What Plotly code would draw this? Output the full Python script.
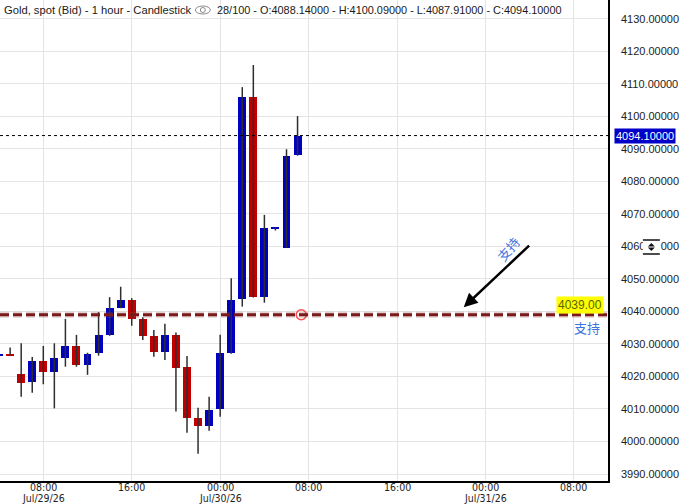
import plotly.graph_objects as go

# ---------------- data ----------------
times = [
    "2026-07-29 04:00", "2026-07-29 05:00", "2026-07-29 06:00", "2026-07-29 07:00",
    "2026-07-29 08:00", "2026-07-29 09:00", "2026-07-29 10:00", "2026-07-29 11:00",
    "2026-07-29 12:00", "2026-07-29 13:00", "2026-07-29 14:00", "2026-07-29 15:00",
    "2026-07-29 16:00", "2026-07-29 17:00", "2026-07-29 18:00", "2026-07-29 19:00",
    "2026-07-29 20:00", "2026-07-29 21:00", "2026-07-29 22:00", "2026-07-29 23:00",
    "2026-07-30 00:00", "2026-07-30 01:00", "2026-07-30 02:00", "2026-07-30 03:00",
    "2026-07-30 04:00", "2026-07-30 05:00", "2026-07-30 06:00", "2026-07-30 07:00",
]
opens = [4026.5, 4026.8, 4020.8, 4018.4, 4024.8, 4021.5, 4025.8, 4029.4,
         4023.5, 4027.3, 4032.8, 4041.2, 4043.5, 4037.6, 4032.5, 4027.6,
         4032.8, 4022.9, 4007.3, 4004.9, 4010.0, 4027.3, 4043.8, 4105.9,
         4044.6, 4065.5, 4059.6, 4088.14]
highs = [4027.0, 4028.9, 4030.2, 4026.0, 4029.4, 4030.2, 4037.7, 4032.8,
         4027.3, 4039.8, 4044.4, 4047.6, 4044.1, 4038.2, 4034.3, 4036.2,
         4033.5, 4026.3, 4010.4, 4013.8, 4032.8, 4050.2, 4109.0, 4115.8,
         4069.7, 4065.8, 4089.9, 4100.09]
lows = [4026.3, 4026.5, 4013.8, 4015.0, 4017.6, 4010.2, 4023.0, 4023.0,
        4020.5, 4026.4, 4032.5, 4041.0, 4035.6, 4031.2, 4026.1, 4025.1,
        4009.2, 4002.7, 3996.2, 4003.3, 4007.6, 4027.0, 4041.5, 4044.3,
        4042.7, 4064.9, 4059.6, 4087.91]
closes = [4026.9, 4026.5, 4018.1, 4024.8, 4021.5, 4025.7, 4029.4, 4023.5,
          4026.8, 4032.8, 4041.0, 4043.5, 4037.6, 4032.6, 4027.6, 4032.8,
          4022.7, 4007.3, 4004.9, 4009.7, 4027.3, 4043.5, 4105.9, 4044.6,
          4065.6, 4065.7, 4087.8, 4094.10]

last_price = 4094.10
support_level = 4039.00
support_anchor_time = "2026-07-30 07:20"
arrow_head = ("2026-07-30 22:02", 4041.3)
arrow_tail = ("2026-07-31 04:05", 4060.7)
arrow_text_pos = ("2026-07-31 02:00", 4059.2)

x_tick_vals = ["2026-07-29 08:00", "2026-07-29 16:00", "2026-07-30 00:00",
               "2026-07-30 08:00", "2026-07-30 16:00", "2026-07-31 00:00",
               "2026-07-31 08:00"]
x_tick_text = ["08:00", "16:00", "00:00", "08:00", "16:00", "00:00", "08:00"]
date_labels = [("2026-07-29 08:00", "Jul/29/26"), ("2026-07-30 00:00", "Jul/30/26"),
               ("2026-07-31 00:00", "Jul/31/26")]
y_ticks = [3990, 4000, 4010, 4020, 4030, 4040, 4050, 4060, 4070, 4080,
           4090, 4100, 4110, 4120, 4130]

title_left = "Gold, spot (Bid) - 1 hour - Candlestick"
title_right = "28/100 - O:4088.14000 - H:4100.09000 - L:4087.91000 - C:4094.10000"

# ---------------- styles ----------------
UP = "#0000C0"
DOWN = "#C00000"
WICK = "#2e2e2e"
GRID = "#e4e4e4"
NARROW = "Liberation Sans Narrow, Arial Narrow, DejaVu Sans Condensed, Liberation Sans"
W, H = 679, 504
PL, PR, PT, PB = 0, 69, 0, 23
PW, PH = W - PL - PR, H - PT - PB


def px_x(p):
    return p / PW


def px_y(p):
    return 1 - p / PH


fig = go.Figure()

# wicks
wx, wy = [], []
for t, h, l in zip(times, highs, lows):
    wx += [t, t, None]
    wy += [l, h, None]
fig.add_trace(go.Scatter(x=wx, y=wy, mode="lines", line=dict(color=WICK, width=1.5),
                         hoverinfo="skip", showlegend=False))

# bodies
base = [min(o, c) for o, c in zip(opens, closes)]
height = [max(abs(c - o), 0.45) for o, c in zip(opens, closes)]
colors = [UP if c >= o else DOWN for o, c in zip(opens, closes)]
fig.add_trace(go.Bar(x=times, y=height, base=base, marker=dict(color=colors, line=dict(width=0)),
                     width=0.72 * 3600 * 1000, showlegend=False, hoverinfo="skip"))

# support anchor circle
fig.add_trace(go.Scatter(x=[support_anchor_time], y=[support_level], mode="markers",
                         marker=dict(symbol="circle-open", size=10, color="#ff4a4a",
                                     line=dict(width=1.5, color="#ff4a4a")),
                         showlegend=False, hoverinfo="skip"))

shapes = []
shapes.append(dict(type="line", xref="paper", x0=0, x1=1, yref="y", y0=support_level, y1=support_level,
                   line=dict(color="rgba(150,70,70,0.25)", width=6, dash="9px,4px"), layer="above"))
shapes.append(dict(type="line", xref="paper", x0=0, x1=1, yref="y", y0=support_level, y1=support_level,
                   line=dict(color="#7a1a1a", width=3, dash="9px,4px"), layer="above"))
shapes.append(dict(type="line", xref="paper", x0=0, x1=1, yref="y", y0=last_price, y1=last_price,
                   line=dict(color="#000000", width=1, dash="3px,3px")))
# eye icon in title
shapes.append(dict(type="circle", xref="paper", yref="paper",
                   x0=px_x(196), x1=px_x(211), y0=px_y(14), y1=px_y(6),
                   line=dict(color="#8a8a8a", width=1)))
shapes.append(dict(type="circle", xref="paper", yref="paper",
                   x0=px_x(201), x1=px_x(206), y0=px_y(12.5), y1=px_y(7.5),
                   line=dict(color="#8a8a8a", width=1)))
# small widget icon on axis
shapes.append(dict(type="rect", xref="paper", yref="paper",
                   x0=px_x(645), x1=px_x(663), y0=px_y(256), y1=px_y(238),
                   fillcolor="white", line=dict(width=0)))
shapes.append(dict(type="line", xref="paper", yref="paper",
                   x0=px_x(645), x1=px_x(662), y0=px_y(240), y1=px_y(240),
                   line=dict(color="#111", width=1.5)))
shapes.append(dict(type="line", xref="paper", yref="paper",
                   x0=px_x(645), x1=px_x(662), y0=px_y(254), y1=px_y(254),
                   line=dict(color="#111", width=1.5)))
shapes.append(dict(type="path", xref="paper", yref="paper",
                   path=f"M {px_x(650)} {px_y(246.5)} L {px_x(657)} {px_y(246.5)} L {px_x(653.5)} {px_y(243)} Z "
                        f"M {px_x(650)} {px_y(247.5)} L {px_x(657)} {px_y(247.5)} L {px_x(653.5)} {px_y(251)} Z",
                   fillcolor="#111", line=dict(width=0)))

annotations = []
annotations.append(dict(xref="paper", yref="paper", x=px_x(2), y=px_y(10), xanchor="left", yanchor="middle",
                        text=title_left, showarrow=False,
                        font=dict(family="Liberation Sans, Arial", size=11.2, color="#1a1a1a")))
annotations.append(dict(xref="paper", yref="paper", x=px_x(216), y=px_y(10), xanchor="left", yanchor="middle",
                        text=title_right, showarrow=False,
                        font=dict(family="Liberation Sans, Arial", size=10.9, color="#1a1a1a")))
# x-axis time labels and date labels
for xv, txt in zip(x_tick_vals, x_tick_text):
    annotations.append(dict(xref="x", yref="paper", x=xv, y=px_y(487), xanchor="center", yanchor="middle",
                            text=txt, showarrow=False,
                            font=dict(family=NARROW, size=10.5, color="#222")))
for xv, txt in date_labels:
    annotations.append(dict(xref="x", yref="paper", x=xv, y=px_y(498), xanchor="center", yanchor="middle",
                            text=txt, showarrow=False,
                            font=dict(family=NARROW, size=10.5, color="#222")))
annotations.append(dict(xref="paper", yref="y", x=px_x(616), y=last_price, xanchor="left", yanchor="middle",
                        text=f"{last_price:.5f}", showarrow=False, bgcolor="#0000C8", borderpad=1,
                        font=dict(family="Liberation Sans, Arial", size=11, color="white")))
annotations.append(dict(xref="paper", yref="y", x=px_x(606), y=support_level, xanchor="right", yanchor="bottom",
                        yshift=1, text=f"{support_level:.2f}", showarrow=False, bgcolor="#ffff00", borderpad=1,
                        font=dict(family="Liberation Sans, Arial", size=12, color="#5a6400")))
annotations.append(dict(xref="paper", yref="y", x=px_x(589), y=support_level, xanchor="center", yanchor="middle",
                        yshift=-13, text="支持", showarrow=False,
                        font=dict(family="Noto Sans CJK SC", size=13, color="#3f72e0")))
annotations.append(dict(xref="x", yref="y", x=arrow_head[0], y=arrow_head[1],
                        axref="x", ayref="y", ax=arrow_tail[0], ay=arrow_tail[1],
                        text="", showarrow=True, arrowhead=2, arrowsize=1.1, arrowwidth=2.5,
                        arrowcolor="#000000"))
annotations.append(dict(xref="x", yref="y", x=arrow_text_pos[0], y=arrow_text_pos[1],
                        text="支持", showarrow=False, textangle=-50,
                        font=dict(family="Noto Sans CJK SC", size=13, color="#3f72e0")))

fig.update_layout(
    width=W, height=H,
    margin=dict(l=PL, r=PR, t=PT, b=PB, pad=0),
    paper_bgcolor="white", plot_bgcolor="white",
    showlegend=False, bargap=0,
    shapes=shapes, annotations=annotations,
    xaxis=dict(type="date", range=["2026-07-29 04:05", "2026-07-31 11:05"],
               tickvals=x_tick_vals, showticklabels=False, ticks="",
               showgrid=True, gridcolor=GRID, gridwidth=1,
               showline=True, linecolor="#000", linewidth=1.5, zeroline=False,
               rangeslider=dict(visible=False), fixedrange=True),
    yaxis=dict(side="right", range=[3987.85, 4135.8], tickvals=y_ticks, tickformat=".5f",
               showgrid=True, gridcolor=GRID, gridwidth=1, ticks="",
               showline=True, linecolor="#000", linewidth=1.5, zeroline=False,
               ticklabelstandoff=9, fixedrange=True,
               tickfont=dict(family="Liberation Sans, Arial", size=11, color="#222")),
)

fig.write_html("out.html", config={"displayModeBar": False},
               post_script="document.body.style.margin='0';document.body.style.padding='0';")
